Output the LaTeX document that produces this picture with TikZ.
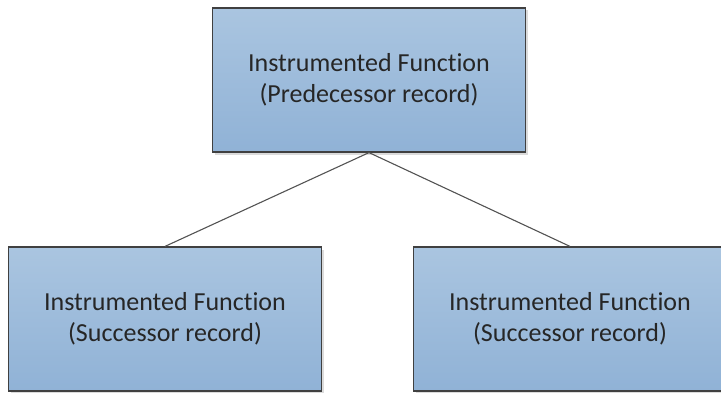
\documentclass[tikz,border=0pt]{standalone}
\usepackage{fontspec}
\setmainfont{Carlito}[Ligatures=NoCommon]
\usepackage{tikz}
\usetikzlibrary{shadows}

\definecolor{boxtop}{RGB}{170,197,224}
\definecolor{boxbot}{RGB}{144,178,214}
\definecolor{boxline}{RGB}{64,64,64}

\begin{document}
\begin{tikzpicture}[
  x=1pt, y=1pt,
  every node/.style={draw=boxline, line width=1.2pt, minimum width=313pt,
                     minimum height=144pt, align=center, inner sep=0pt,
                     top color=boxtop, bottom color=boxbot, text=black!85,
                     font=\fontsize{26}{31}\selectfont,
                     drop shadow={shadow xshift=2.5pt, shadow yshift=-2.5pt,
                                  opacity=0.35, fill=black!40}},
  link/.style={draw=boxline!90, line width=1.1pt}
]
  \useasboundingbox (0,0) rectangle (721,392);

  \node (pred)  at (369, 312) {Instrumented Function\\(Predecessor record)};
  \node (succl) at (165,  73) {Instrumented Function\\(Successor record)};
  \node (succr) at (570,  73) {Instrumented Function\\(Successor record)};

  \draw[link] (pred.south) -- (succl.north);
  \draw[link] (pred.south) -- (succr.north);
\end{tikzpicture}
\end{document}
